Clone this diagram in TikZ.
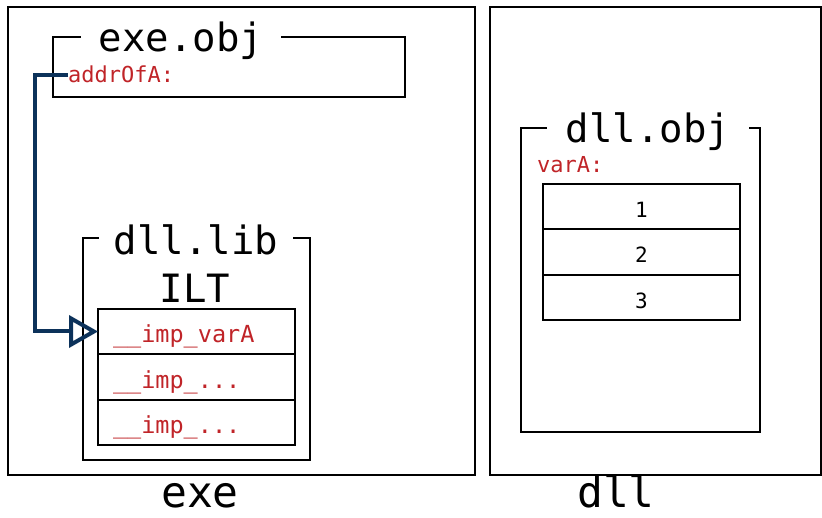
\documentclass[tikz,border=0pt]{standalone}
\usepackage{fontspec}
\setmonofont{DejaVu Sans Mono}
\usepackage{tikz}
\usetikzlibrary{positioning,arrows.meta}
\definecolor{symred}{RGB}{192,36,40}
\definecolor{linkblue}{RGB}{12,50,90}
\tikzset{%
  font=\ttfamily,
  box/.style    = { rectangle, draw, line width=2pt, outer sep=0pt, inner sep=0pt },
  title/.style  = { fill=white, inner xsep=18pt, inner ysep=0pt, anchor=base,
                    font=\ttfamily\fontsize{39}{40}\selectfont },
  slot/.style   = { rectangle, draw, line width=2pt, outer sep=0pt,
                    minimum width=197pt, minimum height=45.5pt },
  sym/.style    = { text=symred, inner sep=0pt, anchor=base west,
                    font=\ttfamily\fontsize{22}{22}\selectfont },
  caption/.style= { inner sep=0pt, anchor=base,
                    font=\ttfamily\fontsize{43}{44}\selectfont },
  link/.style   = { draw=linkblue, line width=4pt,
                    -{Triangle[open,length=29pt,width=32pt]} }
}

\begin{document}
\begin{tikzpicture}[x=1pt,y=-1pt,
                    impslot/.style={slot,text width=167pt,inner xsep=15pt,align=left,
                    text height=29pt,text depth=6pt,
                    text=symred,font=\ttfamily\fontsize{23.5}{24}\selectfont},%
                    numslot/.style={slot,text height=22pt,text depth=0pt,
                    font=\ttfamily\fontsize{21}{22}\selectfont}]
  \useasboundingbox (0,0) rectangle (822,518);
  % modules
  \node[box,minimum width=467pt,minimum height=468pt] (exe) at (241.5,241) {};
  \node[box,minimum width=331pt,minimum height=468pt] (dll) at (655.5,241) {};
  \node[caption] (exe-name) at (200,507) {exe};
  \node[caption] (dll-name) at (616,507) {dll};

  % exe.obj
  \node[box,minimum width=352pt,minimum height=60pt] (exeobj) at (229,67) {};
  \node[title] (exeobj-title) at (181,52) {exe.obj};
  \node[sym] (addr) at (68,83) {addrOfA:};

  % dll.lib with the ILT
  \node[box,minimum width=227pt,minimum height=222pt] (dlllib) at (196.5,349) {};
  \node[title,inner xsep=15pt] (dlllib-title) at (196,255) {dll.lib};
  \node[anchor=base,font=\ttfamily\fontsize{39}{40}\selectfont] (ilt) at (195,303) {ILT};
  \node[impslot] (imp-1) at (196.5,331.5) {\_\_imp\_varA};
  \node[impslot,below=0pt of imp-1] (imp-2) {\_\_imp\_...};
  \node[impslot,below=0pt of imp-2] (imp-3) {\_\_imp\_...};

  % dll.obj
  \node[box,minimum width=239pt,minimum height=304pt] (dllobj) at (640.5,280) {};
  \node[title,inner xsep=19pt] (dllobj-title) at (648,143) {dll.obj};
  \node[sym] (vara) at (537,173) {varA:};
  \node[numslot] (val-1) at (641.5,206.5) {1};
  \node[numslot,below=0pt of val-1] (val-2) {2};
  \node[numslot,below=0pt of val-2] (val-3) {3};

  % address of the import slot
  \draw[link] (addr.west) -- ++(-33,0) |- (imp-1.west);
\end{tikzpicture}
\end{document}
